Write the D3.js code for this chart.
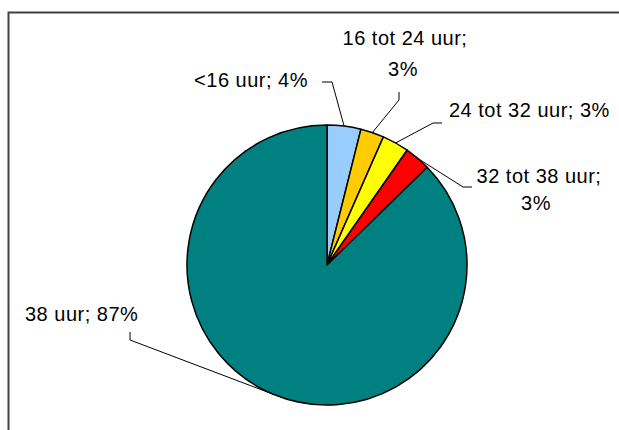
<!DOCTYPE html>
<html>
<head>
<meta charset="utf-8">
<style>
  body { margin: 0; background: #fff; }
  svg { display: block; }
  text { font-family: "Liberation Sans", Arial, sans-serif; font-size: 20px; letter-spacing: 0.5px; fill: #000; }
</style>
</head>
<body>
<script src="https://cdn.jsdelivr.net/npm/d3@7"></script>
<script>
var categories = ["<16 uur", "16 tot 24 uur", "24 tot 32 uur", "32 tot 38 uur", "38 uur"];
var values = [3.9, 2.7, 3.1, 3.0, 87.3];
var percentLabels = ["4%", "3%", "3%", "3%", "87%"];
var colors = ["#99ccff", "#ffcc00", "#ffff00", "#ff0000", "#008080"];

// label layout: text lines (x, baseline y, anchor) and leader start points
var labelLayout = [
  { lines: [["<16 uur; 4%", 308, 87, "end"]], leader: [[322, 82], [332, 82]] },
  { lines: [["16 tot 24 uur;", 405, 45, "middle"], ["3%", 403, 76, "middle"]], leader: [[399, 92], [399, 100]] },
  { lines: [["24 tot 32 uur; 3%", 449, 117, "start"]], leader: [[442, 123], [433, 123]] },
  { lines: [["32 tot 38 uur;", 539, 183, "middle"], ["3%", 536, 210, "middle"]], leader: [[472, 187], [463, 187]] },
  { lines: [["38 uur; 87%", 25, 321, "start"]], leader: [[130, 332], [130, 340]] }
];

var w = 619, h = 430,
    cx = 327, cy = 265, r = 140;

var svg = d3.select("body").append("svg")
    .attr("width", w)
    .attr("height", h);

// chart area frame (extends past the window on the right and bottom)
svg.append("rect")
    .attr("x", 8.5).attr("y", 12.5)
    .attr("width", 700).attr("height", 500)
    .style("fill", "none")
    .style("stroke", "#404040")
    .style("stroke-width", 2);

var data = categories.map(function(c, i) { return { name: c, value: values[i], pct: percentLabels[i], color: colors[i] }; });

var pie = d3.pie().sort(null).value(function(d) { return d.value; });
var arc = d3.arc().innerRadius(0).outerRadius(r);
var arcs = pie(data);

var g = svg.append("g").attr("transform", "translate(" + cx + "," + cy + ")");

g.selectAll("path")
    .data(arcs)
  .enter().append("path")
    .attr("d", arc)
    .style("fill", function(d) { return d.data.color; })
    .style("stroke", "#000")
    .style("stroke-width", 1.5)
    .style("stroke-linejoin", "round");

// leader lines
svg.selectAll("polyline")
    .data(arcs)
  .enter().append("polyline")
    .attr("points", function(d, i) {
      var a = (d.startAngle + d.endAngle) / 2;
      var end = [cx + r * Math.sin(a), cy - r * Math.cos(a)];
      return labelLayout[i].leader.concat([end]).map(function(p) { return p.join(","); }).join(" ");
    })
    .style("fill", "none")
    .style("stroke", "#000")
    .style("stroke-width", 1);

// labels
labelLayout.forEach(function(l) {
  l.lines.forEach(function(t) {
    svg.append("text")
        .attr("x", t[1]).attr("y", t[2])
        .attr("text-anchor", t[3])
        .text(t[0]);
  });
});
</script>
</body>
</html>
